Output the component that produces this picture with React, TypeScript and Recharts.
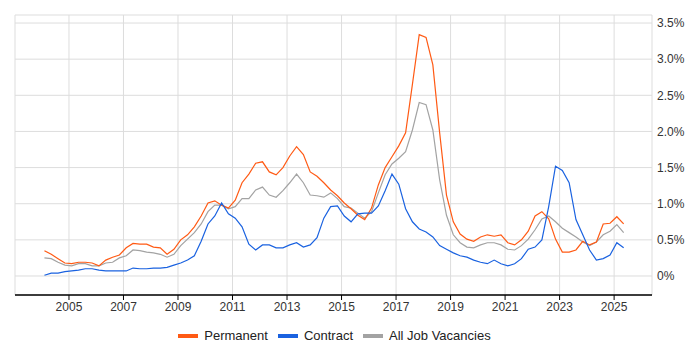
import { LineChart, Line, XAxis, YAxis, CartesianGrid, Legend } from "recharts";

// quarter points, as fractional years
const quarters = [
  2004.1, 2004.35, 2004.6, 2004.85, 2005.1, 2005.35, 2005.6, 2005.85,
  2006.1, 2006.35, 2006.6, 2006.85, 2007.1, 2007.35, 2007.6, 2007.85,
  2008.1, 2008.35, 2008.6, 2008.85, 2009.1, 2009.35, 2009.6, 2009.85,
  2010.1, 2010.35, 2010.6, 2010.85, 2011.1, 2011.35, 2011.6, 2011.85,
  2012.1, 2012.35, 2012.6, 2012.85, 2013.1, 2013.35, 2013.6, 2013.85,
  2014.1, 2014.35, 2014.6, 2014.85, 2015.1, 2015.35, 2015.6, 2015.85,
  2016.1, 2016.35, 2016.6, 2016.85, 2017.1, 2017.35, 2017.6, 2017.85,
  2018.1, 2018.35, 2018.6, 2018.85, 2019.1, 2019.35, 2019.6, 2019.85,
  2020.1, 2020.35, 2020.6, 2020.85, 2021.1, 2021.35, 2021.6, 2021.85,
  2022.1, 2022.35, 2022.6, 2022.85, 2023.1, 2023.35, 2023.6, 2023.85,
  2024.1, 2024.35, 2024.6, 2024.85, 2025.1, 2025.35,
];

const permanent = [
  0.35, 0.30, 0.24, 0.18, 0.17, 0.19, 0.19, 0.18, 0.14, 0.22,
  0.26, 0.29, 0.39, 0.45, 0.44, 0.44, 0.40, 0.39, 0.30, 0.37,
  0.50, 0.57, 0.68, 0.83, 1.01, 1.04, 0.98, 0.94, 1.05, 1.29,
  1.41, 1.56, 1.58, 1.44, 1.40, 1.50, 1.66, 1.79, 1.68, 1.44,
  1.38, 1.29, 1.19, 1.11, 1.01, 0.93, 0.84, 0.78, 0.94, 1.26,
  1.50, 1.65, 1.80, 1.98, 2.65, 3.34, 3.30, 2.92, 1.98, 1.12,
  0.75, 0.58, 0.51, 0.48, 0.54, 0.57, 0.55, 0.57, 0.46, 0.43,
  0.50, 0.62, 0.83, 0.89, 0.79, 0.51, 0.33, 0.33, 0.36, 0.48,
  0.43, 0.47, 0.72, 0.73, 0.82, 0.72,
];

const contract = [
  0.01, 0.04, 0.04, 0.06, 0.07, 0.08, 0.10, 0.10, 0.08, 0.07,
  0.07, 0.07, 0.07, 0.11, 0.10, 0.10, 0.11, 0.11, 0.12, 0.15,
  0.18, 0.22, 0.28, 0.48, 0.72, 0.83, 1.01, 0.86, 0.80, 0.68,
  0.44, 0.36, 0.43, 0.43, 0.39, 0.39, 0.43, 0.46, 0.40, 0.43,
  0.53, 0.80, 0.96, 0.97, 0.83, 0.75, 0.86, 0.87, 0.87, 0.97,
  1.18, 1.41, 1.27, 0.93, 0.75, 0.65, 0.61, 0.54, 0.42, 0.37,
  0.32, 0.28, 0.26, 0.22, 0.19, 0.17, 0.22, 0.17, 0.14, 0.17,
  0.24, 0.37, 0.40, 0.50, 0.96, 1.52, 1.46, 1.29, 0.78, 0.57,
  0.36, 0.22, 0.24, 0.29, 0.46, 0.39,
];

const allJobs = [
  0.25, 0.24, 0.19, 0.15, 0.14, 0.17, 0.17, 0.14, 0.14, 0.18,
  0.19, 0.25, 0.28, 0.36, 0.35, 0.33, 0.32, 0.30, 0.26, 0.30,
  0.42, 0.51, 0.60, 0.72, 0.89, 0.98, 0.98, 0.93, 0.96, 1.07,
  1.07, 1.19, 1.23, 1.12, 1.09, 1.18, 1.29, 1.41, 1.29, 1.12,
  1.11, 1.09, 1.15, 1.07, 0.96, 0.94, 0.87, 0.80, 0.89, 1.15,
  1.40, 1.55, 1.63, 1.72, 2.02, 2.40, 2.37, 2.02, 1.33, 0.84,
  0.57, 0.46, 0.40, 0.39, 0.43, 0.46, 0.46, 0.43, 0.37, 0.36,
  0.42, 0.51, 0.64, 0.79, 0.83, 0.75, 0.66, 0.60, 0.54, 0.47,
  0.42, 0.47, 0.57, 0.62, 0.71, 0.60,
];

const yearTicks = [2005, 2007, 2009, 2011, 2013, 2015, 2017, 2019, 2021, 2023, 2025];
const pctTicks = [0, 0.5, 1, 1.5, 2, 2.5, 3, 3.5];

const series = [
  { key: "permanent", name: "Permanent", color: "#ff5a14" },
  { key: "contract", name: "Contract", color: "#1a62e0" },
  { key: "all", name: "All Job Vacancies", color: "#a3a3a3" },
];

const data = quarters.map((q, i) => ({
  t: q,
  permanent: permanent[i],
  contract: contract[i],
  all: allJobs[i],
}));

const font = "Arial, 'Liberation Sans', sans-serif";

function LegendBox() {
  return (
    <div
      style={{
        display: "flex",
        justifyContent: "center",
        alignItems: "center",
        fontFamily: font,
        fontSize: 13,
        color: "#222",
        paddingTop: 8,
        marginLeft: -36,
      }}
    >
      {series.map((s) => (
        <div key={s.key} style={{ display: "flex", alignItems: "center", marginRight: 10 }}>
          <span style={{ display: "inline-block", width: 20, height: 4, background: s.color, marginRight: 6 }} />
          <span>{s.name}</span>
        </div>
      ))}
    </div>
  );
}

export default function App() {
  return (
    <div style={{ position: "absolute", left: 0, top: 0, width: 700, height: 350, background: "#fff" }}>
      <LineChart width={700} height={350} data={data} margin={{ top: 15, right: 0, bottom: 0, left: 15 }}>
        <CartesianGrid stroke="#dddddd" />
        <XAxis
          dataKey="t"
          type="number"
          domain={[2003.02, 2026.39]}
          ticks={yearTicks}
          height={25}
          axisLine={{ stroke: "#000", strokeWidth: 1.5 }}
          tickLine={{ stroke: "#000" }}
          tickSize={5}
          tick={{ fill: "#333", fontSize: 12, fontFamily: font }}
        />
        <YAxis
          orientation="right"
          type="number"
          domain={[-0.263, 3.611]}
          ticks={pctTicks}
          width={48}
          axisLine={false}
          tickLine={false}
          tickSize={4}
          tickMargin={1}
          tickFormatter={(v: number) => (v === 0 ? "0%" : `${v.toFixed(1)}%`)}
          tick={{ fill: "#333", fontSize: 12, fontFamily: font }}
        />
        <Legend verticalAlign="bottom" height={30} content={() => <LegendBox />} />
        <Line type="linear" dataKey="all" name="All Job Vacancies" stroke="#a3a3a3" strokeWidth={1.2} dot={false} isAnimationActive={false} />
        <Line type="linear" dataKey="permanent" name="Permanent" stroke="#ff5a14" strokeWidth={1.2} dot={false} isAnimationActive={false} />
        <Line type="linear" dataKey="contract" name="Contract" stroke="#1a62e0" strokeWidth={1.2} dot={false} isAnimationActive={false} />
      </LineChart>
    </div>
  );
}
